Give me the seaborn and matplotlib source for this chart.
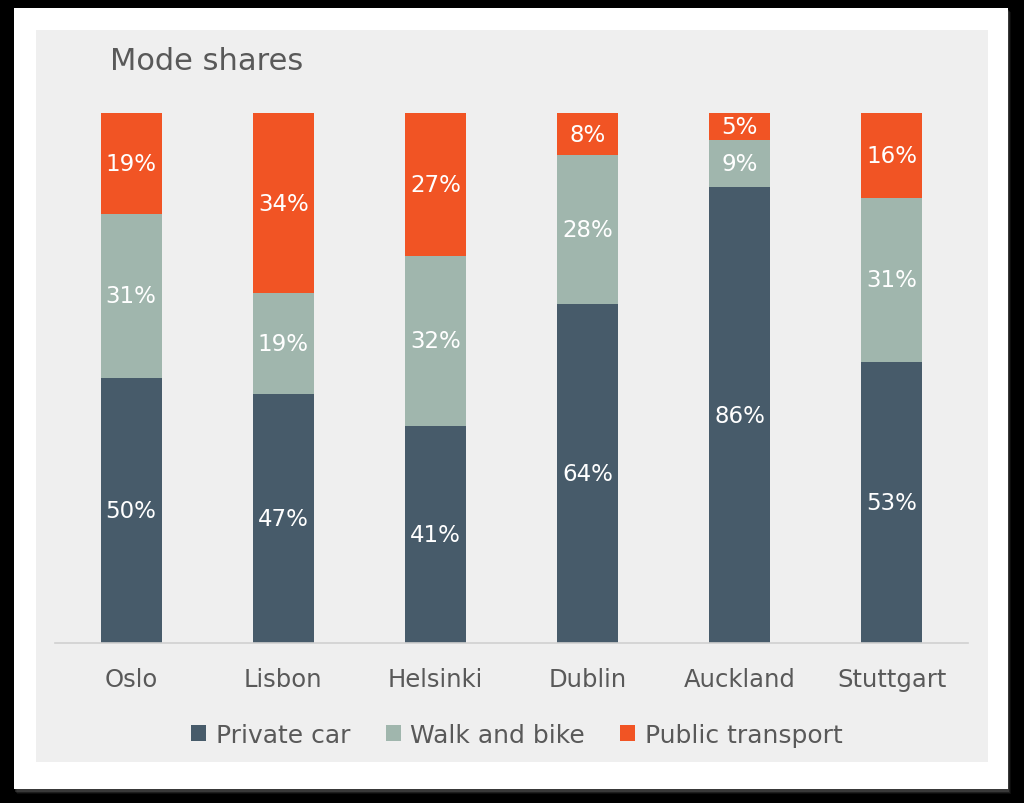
import pandas as pd
import matplotlib.pyplot as plt
import seaborn as sns
from matplotlib.patches import Rectangle, Patch

# Data (percent of trips)
cities = ["Oslo", "Lisbon", "Helsinki", "Dublin", "Auckland", "Stuttgart"]
private_car = [50, 47, 41, 64, 86, 53]
walk_bike = [31, 19, 32, 28, 9, 31]
public_transport = [19, 34, 27, 8, 5, 16]

series_names = ["Private car", "Walk and bike", "Public transport"]
colors = ["#475b6a", "#a0b6ad", "#f15424"]

df = pd.DataFrame({
    "city": cities,
    "Private car": private_car,
    "Walk and bike": walk_bike,
    "Public transport": public_transport,
})
df["cum_car"] = df["Private car"]
df["cum_walk"] = df["cum_car"] + df["Walk and bike"]
df["cum_pt"] = df["cum_walk"] + df["Public transport"]

sns.set_theme(style="white")
plt.rcParams["font.family"] = ["DejaVu Sans"]
text_col = "#595959"

W, H = 1024, 804
fig = plt.figure(figsize=(W / 100, H / 100), dpi=100, facecolor="black")

# card shadow + white card + grey panel
for i, a in enumerate([0.10, 0.15, 0.25]):
    d = 3 - i
    fig.patches.append(Rectangle(((14 + d) / W, (H - 792 - d) / H), (996 - 2) / W, (782) / H,
                                 transform=fig.transFigure, facecolor="#888888",
                                 alpha=a, edgecolor="none", zorder=0))
fig.patches.append(Rectangle((14 / W, (H - 790) / H), 994 / W, 781 / H,
                             transform=fig.transFigure, facecolor="white",
                             edgecolor="none", zorder=1))
fig.patches.append(Rectangle((36 / W, (H - 763) / H), 952 / W, 732 / H,
                             transform=fig.transFigure, facecolor="#efefef",
                             edgecolor="none", zorder=2))

ax = fig.add_axes([55 / W, (H - 644) / H, 913 / W, 530 / H])
ax.set_facecolor("none")
ax.set_zorder(3)

# stacked bars: draw cumulative totals from the top down
for col, c in zip(["cum_pt", "cum_walk", "cum_car"], colors[::-1]):
    sns.barplot(data=df, x="city", y=col, color=c, width=0.4,
                saturation=1, ax=ax, edgecolor="none", linewidth=0)

# segment labels
for i, row in df.iterrows():
    bottoms = [0, row["cum_car"], row["cum_walk"]]
    for b, name in zip(bottoms, series_names):
        v = row[name]
        ax.text(i, b + v / 2, f"{v}%", ha="center", va="center",
                color="white", fontsize=16.5)

ax.set_xlim(-0.5, 5.5)
ax.set_ylim(0, 100)
ax.set_xlabel("")
ax.set_ylabel("")
ax.set_yticks([])
sns.despine(ax=ax, left=True, top=True, right=True)
ax.spines["bottom"].set_color("#d0d0d0")
ax.spines["bottom"].set_linewidth(1.2)
ax.tick_params(axis="x", length=0, pad=17, labelsize=17.5, labelcolor=text_col)

fig.text(110 / W, (H - 62) / H, "Mode shares", fontsize=22, color=text_col,
         ha="left", va="center", zorder=5)

handles = [Patch(facecolor=c, edgecolor="none") for c in colors]
fig.legend(handles, series_names, loc="center", bbox_to_anchor=(517 / W, (H - 736) / H),
           ncol=3, frameon=False, fontsize=18, labelcolor=text_col,
           handlelength=0.6, handleheight=0.6, handletextpad=0.4, columnspacing=1.4)

fig.savefig("out.png", dpi=100, facecolor="black")
